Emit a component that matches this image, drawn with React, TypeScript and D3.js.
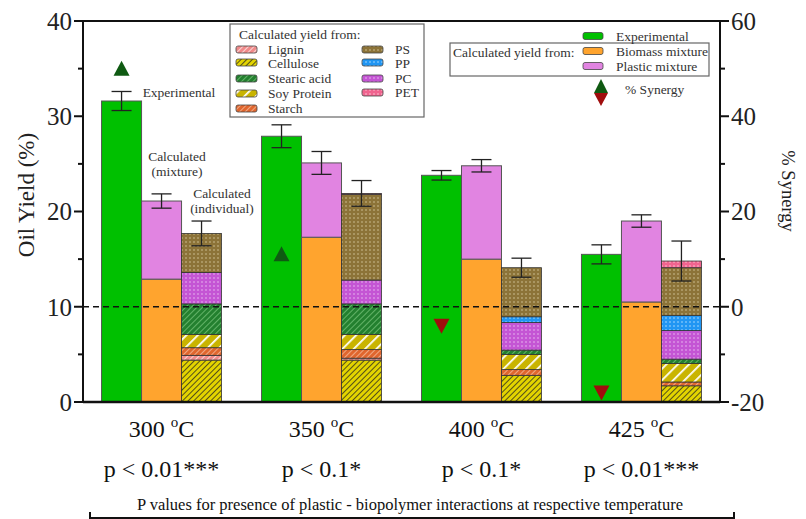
import React from "react";
import * as d3 from "d3";

// temperatures and p values shown under each group
const temperatures = ["300", "350", "400", "425"];
const pValues = ["p < 0.01***", "p < 0.1*", "p < 0.1*", "p < 0.01***"];

// experimental oil yield (%)
const experimental = [31.6, 27.9, 23.8, 15.5];
const experimentalErr = [1.0, 1.2, 0.5, 1.0];

// calculated from mixtures
const biomassMixture = [12.9, 17.3, 15.0, 10.5];
const plasticMixture = [8.2, 7.8, 9.8, 8.5];
const mixtureErr = [0.75, 1.2, 0.65, 0.65];

// calculated from individual components
const cellulose = [4.4, 4.4, 2.8, 1.7];
const lignin = [0.5, 0.2, 0, 0];
const starch = [0.8, 0.9, 0.6, 0.4];
const soyProtein = [1.4, 1.6, 1.6, 1.95];
const stearicAcid = [3.2, 3.2, 0.45, 0.45];
const pcYield = [3.3, 2.5, 2.9, 3.0];
const ppYield = [0, 0, 0.6, 1.6];
const psYield = [4.1, 9.0, 5.15, 5.0];
const petYield = [0, 0.1, 0, 0.7];
const individualErr = [1.3, 1.35, 1.0, 2.1];

// % synergy (right axis)
const synergy = [50, 11, -4, -18];

const yTicks = [0, 10, 20, 30, 40];
const yMinor = [5, 15, 25, 35];
const sTicks = [-20, 0, 20, 40, 60];
const sMinor = [-10, 10, 30, 50];

const stackKeys = ["cellulose", "lignin", "starch", "soy", "stearic", "pc", "pp", "ps", "pet"];

const W = 806;
const H = 519;
const left = 83;
const right = 720;
const top = 21;
const bottom = 402;
const FONT = "'Liberation Serif', 'Times New Roman', serif";

const legendLeft = [
  { key: "lignin", label: "Lignin" },
  { key: "cellulose", label: "Cellulose" },
  { key: "stearic", label: "Stearic acid" },
  { key: "soy", label: "Soy Protein" },
  { key: "starch", label: "Starch" },
];
const legendRight = [
  { key: "ps", label: "PS" },
  { key: "pp", label: "PP" },
  { key: "pc", label: "PC" },
  { key: "pet", label: "PET" },
];

function Hatch({ id, bg, fg, size, w }: { id: string; bg: string; fg: string; size: number; w: number }) {
  return (
    <pattern id={id} patternUnits="userSpaceOnUse" width={size} height={size} patternTransform="rotate(45)">
      <rect width={size} height={size} fill={bg} />
      <line x1={0} y1={0} x2={0} y2={size} stroke={fg} strokeWidth={w} />
    </pattern>
  );
}

function Dots({ id, bg, fg }: { id: string; bg: string; fg: string }) {
  return (
    <pattern id={id} patternUnits="userSpaceOnUse" width={4} height={4}>
      <rect width={4} height={4} fill={bg} />
      <circle cx={2} cy={2} r={0.75} fill={fg} />
    </pattern>
  );
}

export default function App() {
  const x0 = d3.scaleBand().domain(temperatures).range([left, right]).paddingInner(0.25).paddingOuter(0.116);
  const x1 = d3.scaleBand().domain(["exp", "mix", "ind"]).range([0, x0.bandwidth()]);
  const y = d3.scaleLinear().domain([0, 40]).range([bottom, top]);
  const ys = d3.scaleLinear().domain([-20, 60]).range([bottom, top]);

  const rows = temperatures.map((t, i) => ({
    t,
    cellulose: cellulose[i],
    lignin: lignin[i],
    starch: starch[i],
    soy: soyProtein[i],
    stearic: stearicAcid[i],
    pc: pcYield[i],
    pp: ppYield[i],
    ps: psYield[i],
    pet: petYield[i],
  }));
  const stacked = d3.stack<any>().keys(stackKeys)(rows);
  const totals = rows.map((r) => stackKeys.reduce((s, k) => s + (r as any)[k], 0));

  const bw = x1.bandwidth();
  const cap = 10;
  const errBar = (cx: number, v: number, e: number, key: string) => (
    <g key={key} stroke="#222" strokeWidth={1.3}>
      <line x1={cx} x2={cx} y1={y(v - e)} y2={y(v + e)} />
      <line x1={cx - cap} x2={cx + cap} y1={y(v + e)} y2={y(v + e)} />
      <line x1={cx - cap} x2={cx + cap} y1={y(v - e)} y2={y(v - e)} />
    </g>
  );

  return (
    <svg width={W} height={H} style={{ position: "absolute", left: 0, top: 0, background: "#fff" }} fontFamily={FONT}>
      <defs>
        <Hatch id="cellulose" bg="#e3d400" fg="#222" size={4} w={1.5} />
        <Hatch id="lignin" bg="#f08a8a" fg="#fff" size={4} w={1.3} />
        <Hatch id="starch" bg="#e0662e" fg="#fbd7c0" size={4} w={1.2} />
        <Hatch id="soy" bg="#c9b400" fg="#fff" size={8} w={3.5} />
        <Hatch id="stearic" bg="#23802f" fg="#8fd68f" size={4} w={1.2} />
        <Dots id="pc" bg="#c455d4" fg="#eec6f2" />
        <Dots id="pp" bg="#2196f3" fg="#bfe3ff" />
        <Dots id="ps" bg="#8c7338" fg="#d8caa0" />
        <Dots id="pet" bg="#f0648f" fg="#ffd0de" />
      </defs>

      {/* groups */}
      {temperatures.map((t, i) => {
        const gx = x0(t) as number;
        const ex = gx + (x1("exp") as number);
        const mx = gx + (x1("mix") as number);
        const ix = gx + (x1("ind") as number);
        const mixTotal = biomassMixture[i] + plasticMixture[i];
        return (
          <g key={t}>
            <rect x={ex} y={y(experimental[i])} width={bw} height={y(0) - y(experimental[i])} fill="#00c000" stroke="#555" strokeWidth={1} />
            <rect x={mx} y={y(biomassMixture[i])} width={bw} height={y(0) - y(biomassMixture[i])} fill="#ffa42e" stroke="#555" strokeWidth={1} />
            <rect x={mx} y={y(mixTotal)} width={bw} height={y(biomassMixture[i]) - y(mixTotal)} fill="#e184e1" stroke="#555" strokeWidth={1} />
            {stacked.map((layer) => {
              const d = layer[i];
              if (d[1] - d[0] <= 0) return null;
              return (
                <rect key={layer.key} x={ix} y={y(d[1])} width={bw} height={y(d[0]) - y(d[1])} fill={`url(#${layer.key})`} stroke="#333" strokeWidth={0.8} />
              );
            })}
            {errBar(ex + bw / 2, experimental[i], experimentalErr[i], "e")}
            {errBar(mx + bw / 2, mixTotal, mixtureErr[i], "m")}
            {errBar(ix + bw / 2, totals[i], individualErr[i], "i")}
          </g>
        );
      })}

      {/* synergy zero line */}
      <line x1={left} x2={right} y1={ys(0)} y2={ys(0)} stroke="#111" strokeWidth={1.5} strokeDasharray="6,4" />

      {/* synergy markers */}
      {temperatures.map((t, i) => {
        const cx = (x0(t) as number) + (x1("exp") as number) + bw / 2;
        const cy = ys(synergy[i]);
        const up = synergy[i] >= 0;
        const path = up
          ? `M${cx},${cy - 8}L${cx + 8},${cy + 7}L${cx - 8},${cy + 7}Z`
          : `M${cx},${cy + 8}L${cx + 8},${cy - 7}L${cx - 8},${cy - 7}Z`;
        return <path key={t} d={path} fill={up ? "#0f5a12" : "#a00d0d"} />;
      })}

      {/* frame */}
      <line x1={left} x2={right} y1={top} y2={top} stroke="#111" strokeWidth={2} />
      <line x1={left} x2={right} y1={bottom} y2={bottom} stroke="#111" strokeWidth={2.5} />
      <line x1={left} x2={left} y1={top} y2={bottom} stroke="#111" strokeWidth={2} />
      <line x1={right} x2={right} y1={top} y2={bottom} stroke="#111" strokeWidth={2} />

      {/* left axis */}
      {yTicks.map((v) => (
        <g key={v}>
          <line x1={left - 9} x2={left} y1={y(v)} y2={y(v)} stroke="#111" strokeWidth={2} />
          <text x={left - 11} y={y(v)} dy="0.35em" textAnchor="end" fontSize={25} fill="#222">{v}</text>
        </g>
      ))}
      {yMinor.map((v) => (
        <line key={v} x1={left - 5} x2={left} y1={y(v)} y2={y(v)} stroke="#111" strokeWidth={2} />
      ))}
      <text transform={`translate(26,195) rotate(-90)`} textAnchor="middle" dy="0.35em" fontSize={23} fill="#222">
        Oil Yield  (%)
      </text>

      {/* right axis */}
      {sTicks.map((v) => (
        <g key={v}>
          <line x1={right} x2={right + 9} y1={ys(v)} y2={ys(v)} stroke="#111" strokeWidth={2} />
          <text x={right + 11} y={ys(v)} dy="0.35em" textAnchor="start" fontSize={25} fill="#222">{v}</text>
        </g>
      ))}
      {sMinor.map((v) => (
        <line key={v} x1={right} x2={right + 5} y1={ys(v)} y2={ys(v)} stroke="#111" strokeWidth={2} />
      ))}
      <text transform={`translate(788,191) rotate(90)`} textAnchor="middle" dy="0.35em" fontSize={18.5} fill="#222">
        % Synergy
      </text>

      {/* category labels and p values */}
      {temperatures.map((t, i) => {
        const cx = (x0(t) as number) + x0.bandwidth() / 2;
        return (
          <g key={t} fill="#111">
            <text x={cx} y={437} textAnchor="middle" fontSize={24}>
              {t + " "}
              <tspan dy={-10} fontSize={15}>o</tspan>
              <tspan dy={10}>C</tspan>
            </text>
            <text x={cx} y={477} textAnchor="middle" fontSize={24}>{pValues[i]}</text>
          </g>
        );
      })}
      <text x={410} y={510} textAnchor="middle" fontSize={16.5} fill="#111">
        P values for presence of plastic - biopolymer interactions at respective temperature
      </text>
      <path d="M90,512V518H734V512" fill="none" stroke="#111" strokeWidth={2} />

      {/* bar annotations */}
      <g fontSize={13.5} fill="#333" textAnchor="middle">
        <text x={179} y={97}>Experimental</text>
        <text x={177} y={161}>Calculated</text>
        <text x={177} y={176}>(mixture)</text>
        <text x={222} y={198}>Calculated</text>
        <text x={222} y={213}>(individual)</text>
      </g>

      {/* component legend */}
      <rect x={230} y={24} width={194} height={93} fill="#fff" stroke="#666" strokeWidth={1.2} />
      <text x={239} y={39} fontSize={13.5} fill="#333">Calculated yield from:</text>
      {legendLeft.map((d, i) => (
        <g key={d.key}>
          <rect x={236} y={[46, 59, 75, 90, 105][i]} width={21} height={7} rx={2} fill={`url(#${d.key})`} stroke="#444" strokeWidth={0.8} />
          <text x={268} y={[49, 63, 78, 93, 108][i]} dy="0.35em" fontSize={13.5} fill="#333">{d.label}</text>
        </g>
      ))}
      {legendRight.map((d, i) => (
        <g key={d.key}>
          <rect x={362} y={[46, 59, 75, 89][i]} width={21} height={7} rx={2} fill={`url(#${d.key})`} stroke="#444" strokeWidth={0.8} />
          <text x={395} y={[49, 63, 78, 92][i]} dy="0.35em" fontSize={13.5} fill="#333">{d.label}</text>
        </g>
      ))}

      {/* series legend */}
      <rect x={450} y={43} width={259} height={33} fill="none" stroke="#666" strokeWidth={1.2} />
      <text x={453} y={52} dy="0.35em" fontSize={13.5} fill="#333">Calculated yield from:</text>
      {[
        { c: "#00c000", l: "Experimental", yy: 36 },
        { c: "#ffa42e", l: "Biomass mixture", yy: 51 },
        { c: "#e184e1", l: "Plastic mixture", yy: 66 },
      ].map((d) => (
        <g key={d.l}>
          <rect x={583} y={d.yy - 3.5} width={20} height={7} rx={2} fill={d.c} stroke="#444" strokeWidth={0.8} />
          <text x={616} y={d.yy} dy="0.35em" fontSize={13.5} fill="#333">{d.l}</text>
        </g>
      ))}
      <path d="M601,79L608,93L594,93Z" fill="#0f5a12" />
      <path d="M601,106L608,93L594,93Z" fill="#a00d0d" />
      <text x={625} y={89} dy="0.35em" fontSize={13.5} fill="#333">% Synergy</text>
    </svg>
  );
}
